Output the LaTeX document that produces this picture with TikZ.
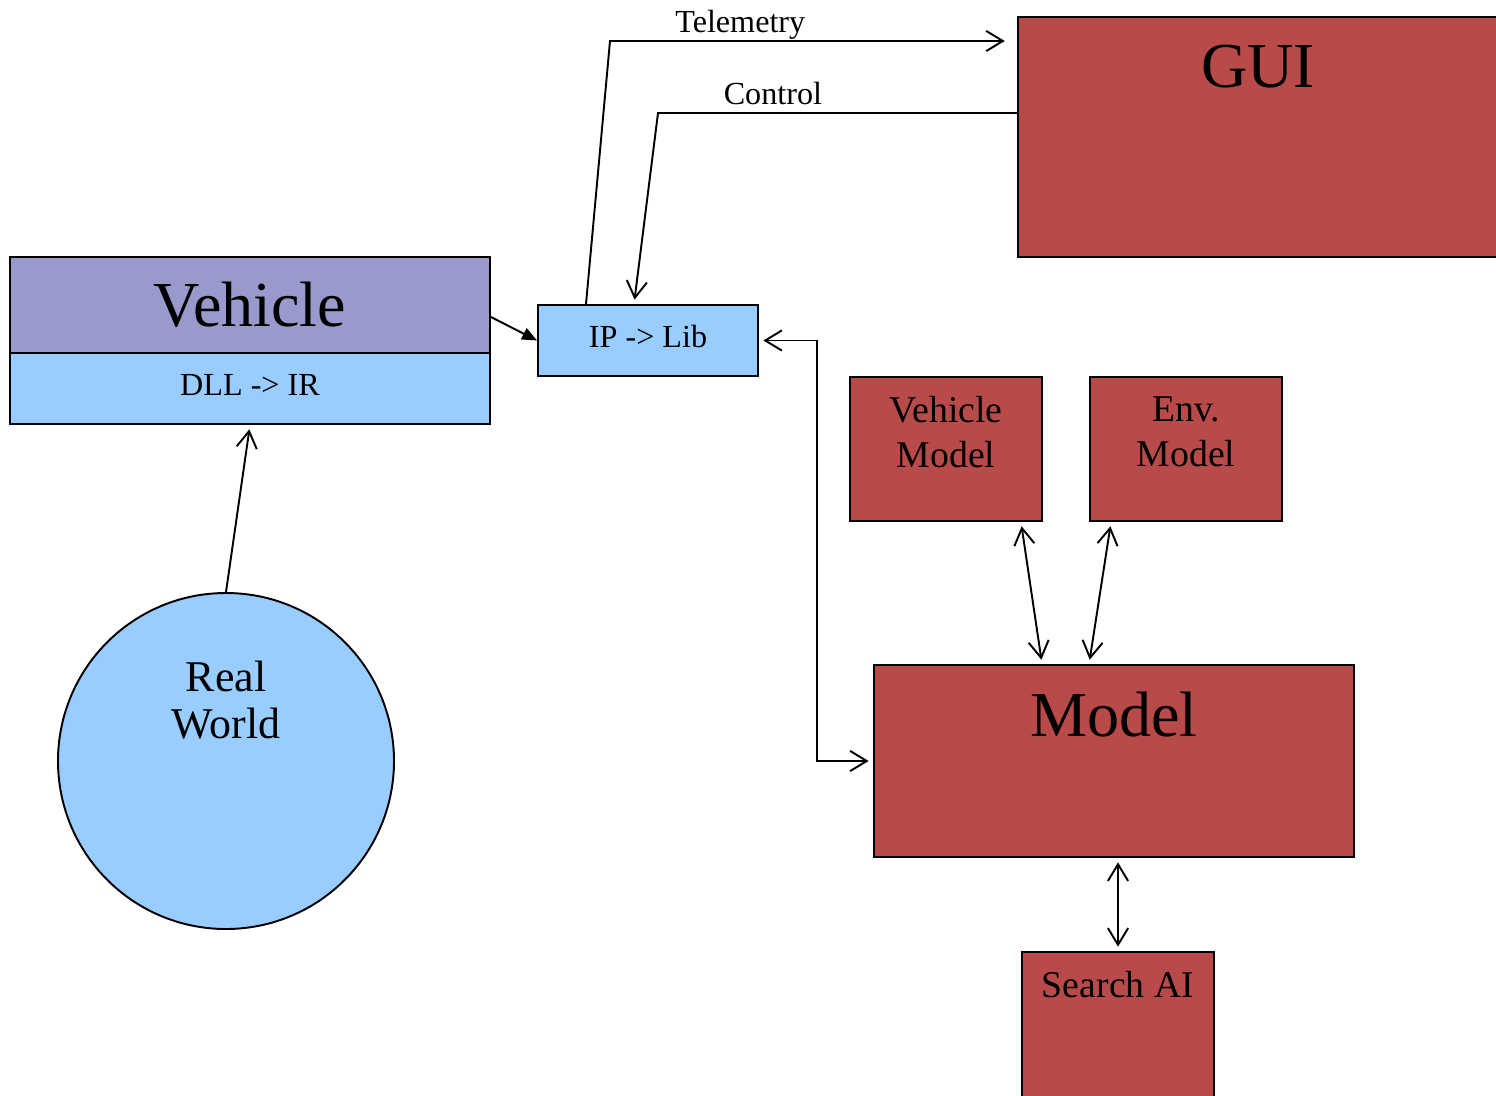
\documentclass[tikz,border=0pt]{standalone}
\usepackage{fontspec}
\setmainfont{Liberation Serif}
\usetikzlibrary{arrows.meta, positioning, calc}
\definecolor{cred}{HTML}{B84A4A}
\definecolor{cpurple}{HTML}{9999CC}
\definecolor{cblue}{HTML}{99CCFF}
\def\pxl{0.02cm}
\tikzset{
  every picture/.style={line width=1.1pt},
  box/.style={draw=black, fill=#1, inner sep=0pt},
  box/.default=cred,
  big/.style={font=\fontsize{36.5}{41}\selectfont},
  mid/.style={font=\fontsize{21.5}{25.5}\selectfont, align=center},
  small/.style={font=\fontsize{18.3}{21}\selectfont, text depth=4.5pt},
  lbl/.style={font=\fontsize{18.3}{21}\selectfont, inner sep=4.5pt, text depth=0pt},
  barb/.tip={Straight Barb[length=9.5pt, width=11.5pt]},
  link/.style={-barb, shorten >=2.5pt},
  dbllink/.style={barb-barb, shorten >=2.5pt, shorten <=2.5pt},
  feed/.style={-{Triangle[length=8.5pt, width=7pt]}},
}

\begin{document}
\begin{tikzpicture}[x=\pxl, y=-\pxl]
  \useasboundingbox (0,0) rectangle (1496,1095);
  % vehicle side
  \node[box=cpurple, minimum width=480*\pxl, minimum height=96*\pxl, big] (vehicle) at (250,305) {Vehicle};
  \node[box=cblue, minimum width=480*\pxl, minimum height=71*\pxl, small] (dll) at (250,388.5) {DLL -> IR};
  \node[box=cblue, minimum width=220*\pxl, minimum height=71*\pxl, small] (iplib) at (648,340.5) {IP -> Lib};
  \node[circle, box=cblue, minimum size=336*\pxl] (world) at (226,761) {};
  \node[font=\fontsize{25}{27}\selectfont, align=center] (worldtext) at (226,700) {Real\\World};
  % red blocks, text sits at the top
  \node[box, minimum width=484*\pxl, minimum height=240*\pxl] (gui) at (1260,137) {};
  \node[big] (guitext) at (1258,67) {GUI};
  \node[box, minimum width=192*\pxl, minimum height=144*\pxl] (vmodel) at (946,449) {};
  \node[mid] (vmtext) at (946,432) {Vehicle\\Model};
  \node[box, minimum width=192*\pxl, minimum height=144*\pxl] (emodel) at (1186,449) {};
  \node[mid] (emtext) at (1186,432) {Env.\\Model};
  \node[box, minimum width=480*\pxl, minimum height=192*\pxl] (model) at (1114,761) {};
  \node[big] (modeltext) at (1114,715) {Model};
  \node[box, minimum width=192*\pxl, minimum height=192*\pxl] (search) at (1118,1048) {};
  \node[mid] (searchtext) at (1118,985) {Search AI};

  \draw[feed] ($(vehicle.east)+(0,12)$) -- (iplib.west);
  \draw[link] (world.north) -- (dll.south);
  \draw[link, shorten >=7pt] ($(iplib.north)+(-62,0)$) -- (610,41)
    -- node[lbl, pos=0.32, above] {Telemetry} (gui.west |- 610,41);
  \draw[link] (gui.west |- 658,113) -- node[lbl, pos=0.68, above] {Control} (658,113)
    -- ($(iplib.north)+(-14,0)$);
  \draw[dbllink] (iplib.east) -- ++(58,0) |- (model.west);
  \draw[dbllink] ($(vmodel.south east)+(-22,0)$) -- ($(model.north west)+(169,0)$);
  \draw[dbllink] ($(emodel.south west)+(22,0)$) -- ($(model.north west)+(216,0)$);
  \draw[dbllink] (model.south -| search.north) -- (search.north);
\end{tikzpicture}
\end{document}
